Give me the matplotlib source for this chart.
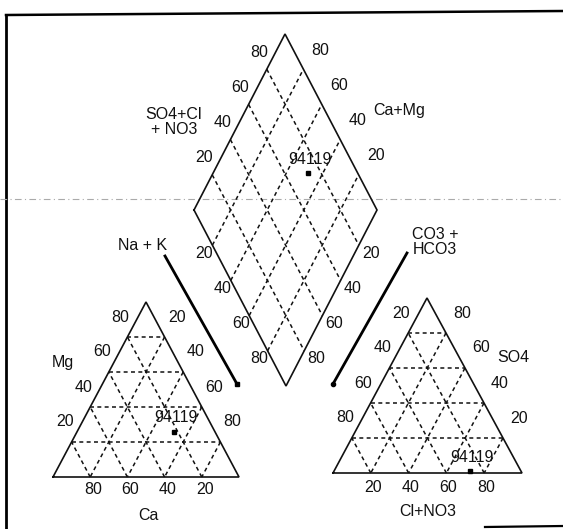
import numpy as np
import matplotlib.pyplot as plt

plt.rcParams['font.family'] = ['Liberation Sans', 'DejaVu Sans']

# Sample 94119 (percent of meq/l)
sample_name = "94119"
ca = [22]
mg = [26]
na_k = [52]
hco3 = [27]
so4 = [1]
cl_no3 = [72]

grid_vals = [0.2, 0.4, 0.6, 0.8]

# Layout in pixel coordinates (scan is slightly stretched vertically)
CL, CR, CA = np.array([53, 477]), np.array([239, 477]), np.array([146, 302])
AL, AR, AA = np.array([333, 473]), np.array([522, 473]), np.array([427, 298])
DL, DT, DB = np.array([194, 210]), np.array([285, 34]), np.array([286, 386])
DR = DT + DB - DL


def cation_xy(c, m, n):
    return c * CL + n * CR + m * CA


def anion_xy(h, s, c):
    return h * AL + c * AR + s * AA


def diamond_xy(a, b):
    return DL + a * (DB - DL) + b * (DT - DL)


fig = plt.figure(figsize=(5.63, 5.29), dpi=100)
ax = fig.add_axes([0, 0, 1, 1])
ax.set_xlim(0, 563)
ax.set_ylim(529, 0)
ax.axis('off')

line_kw = dict(color='#111111', lw=1.2, solid_joinstyle='miter')
dash_kw = dict(color='#111111', lw=1.1, dashes=(2.6, 2.2))
fs = 11.5

# frame (scanned page)
ax.plot([6, 6], [529, 15], color='black', lw=2.0)
ax.plot([6, 563], [15, 11], color='black', lw=1.8)
ax.plot([485, 563], [527, 526], color='black', lw=1.6)
ax.plot([0, 563], [199, 199], color='#aaaaaa', lw=0.8, dashes=(6, 3, 1, 3))


def draw_triangle(V1, V2, V3):
    pts = np.array([V1, V2, V3, V1])
    ax.plot(pts[:, 0], pts[:, 1], **line_kw)
    verts = [V1, V2, V3]
    for i in range(3):
        Vi = verts[i]
        Vj = verts[(i + 1) % 3]
        Vk = verts[(i + 2) % 3]
        for v in grid_vals:
            p = v * Vi + (1 - v) * Vj
            q = v * Vi + (1 - v) * Vk
            ax.plot([p[0], q[0]], [p[1], q[1]], **dash_kw)


draw_triangle(CL, CR, CA)
draw_triangle(AL, AR, AA)

# diamond
pts = np.array([DL, DT, DR, DB, DL])
ax.plot(pts[:, 0], pts[:, 1], **line_kw)
for v in grid_vals:
    p, q = diamond_xy(v, 0), diamond_xy(v, 1)
    ax.plot([p[0], q[0]], [p[1], q[1]], **dash_kw)
    p, q = diamond_xy(0, v), diamond_xy(1, v)
    ax.plot([p[0], q[0]], [p[1], q[1]], **dash_kw)


def lab(xy, off, s, **kw):
    ax.text(xy[0] + off[0], xy[1] + off[1], s, fontsize=fs, color='#111111',
            ha='center', va='center', **kw)


for v in grid_vals:
    t = str(int(round(v * 100)))
    # cation triangle
    lab(cation_xy(1 - v, v, 0), (-7, -20), t)
    lab(cation_xy(0, 1 - v, v), (12, -20), t)
    lab(cation_xy(v, 0, 1 - v), (3, 12), t)
    # anion triangle
    lab(anion_xy(v, 1 - v, 0), (-7, -20), t)
    lab(anion_xy(0, v, 1 - v), (16, -20), t)
    lab(anion_xy(1 - v, 0, v), (2, 14), t)
    # diamond
    lab(diamond_xy(0, v), (-8, -17), t)
    lab(diamond_xy(1 - v, 1), (17, -19), t)
    lab(diamond_xy(v, 0), (-8, 8), t)
    lab(diamond_xy(1, 1 - v), (12, 8), t)

# axis titles
lab((174, 122), (0, 0), "SO4+Cl\n+ NO3", linespacing=1.0)
lab((399, 111), (0, 0), "Ca+Mg")
lab((143, 246), (0, 0), "Na + K")
lab((435, 242), (0, 0), "CO3 +\nHCO3", linespacing=1.0)
lab((63, 362), (0, 0), "Mg")
lab((148, 515), (0, 0), "Ca")
lab((513, 357), (0, 0), "SO4")
lab((428, 511), (0, 0), "Cl+NO3")

# projection arrows
ax.plot([165, 237], [256, 384], color='black', lw=2.0)
ax.plot([237], [384], 's', color='black', ms=3)
ax.plot([407, 333], [253, 384], color='black', lw=2.0)
ax.plot([333], [384], 'o', color='black', ms=3)

# sample points
for c, m, n, h, s, cl in zip(ca, mg, na_k, hco3, so4, cl_no3):
    tot_c = c + m + n
    tot_a = h + s + cl
    pc = cation_xy(c / tot_c, m / tot_c, n / tot_c)
    pa = anion_xy(h / tot_a, s / tot_a, cl / tot_a)
    pd = diamond_xy(n / tot_c, (s + cl) / tot_a)
    for p in (pc, pa, pd):
        ax.plot(p[0], p[1], 's', color='black', ms=3.5)
        lab(p, (2, -14), sample_name)

fig.savefig('out.png', dpi=100)
